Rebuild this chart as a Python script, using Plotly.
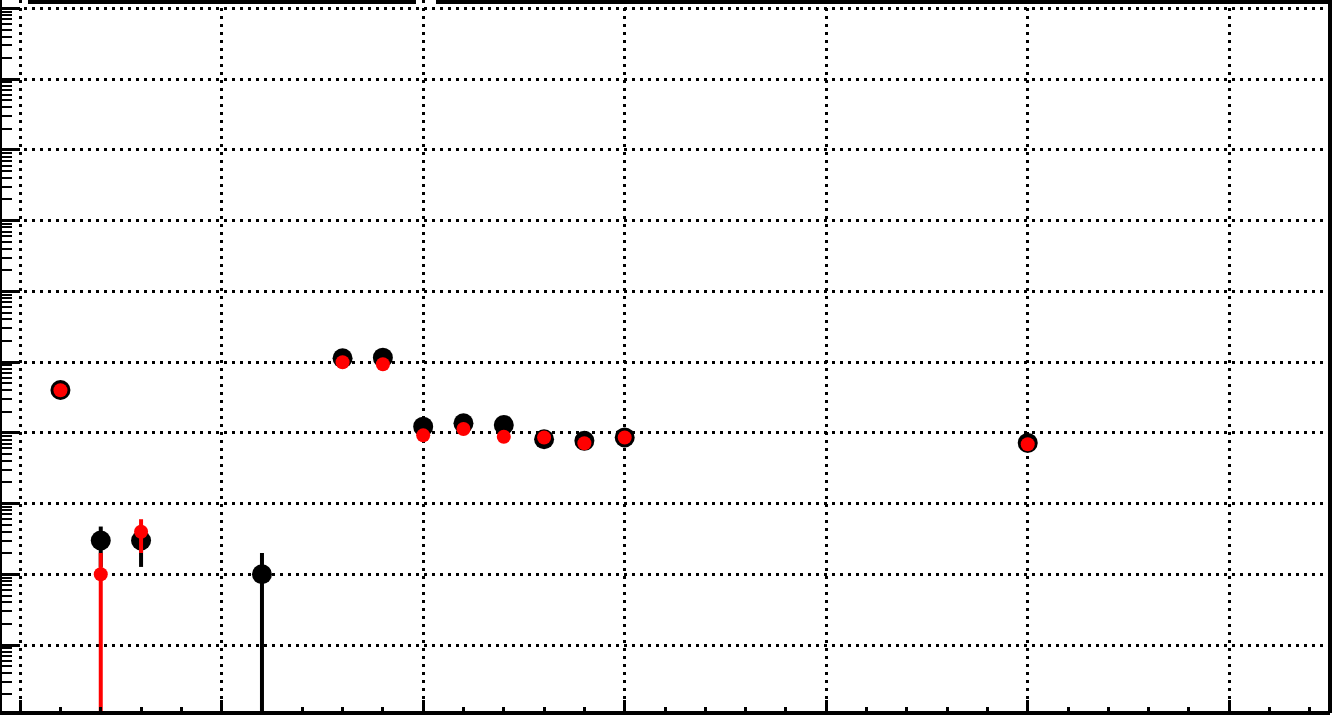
import plotly.graph_objects as go

# ---- data ----
x_data = [1, 2, 3, 6, 8, 9, 10, 11, 12, 13, 14, 15, 25]
y_data = [403, 3, 3, 1, 1131, 1153, 122, 136, 129, 81, 77, 86, 72]
err_data = [20, 1.73, 1.73, 1, 34, 34, 11, 11.7, 11.4, 9, 8.8, 9.3, 8.5]

x_mc = [1, 2, 3, 8, 9, 10, 11, 12, 13, 14, 15, 25]
y_mc = [400, 1, 4, 993, 931, 92, 113, 88, 86, 71, 86, 69]
err_mc = [20, 1, 2, 31.5, 30.5, 9.6, 10.6, 9.4, 9.3, 8.4, 9.3, 8.3]

# ---- layout geometry ----
W, H = 1338, 719
ML, MR, MT, MB = 0, 8, 0, 6
PW = W - ML - MR
PH = H - MT - MB

fig = go.Figure()

fig.add_trace(go.Scatter(
    x=x_data, y=y_data, mode="markers",
    marker=dict(color="black", size=20, line=dict(width=0)),
    error_y=dict(type="data", array=err_data, arrayminus=err_data, symmetric=False,
                 color="black", thickness=4, width=0),
    showlegend=False,
))
fig.add_trace(go.Scatter(
    x=x_mc, y=y_mc, mode="markers",
    marker=dict(color="#ff0000", size=14, line=dict(width=0)),
    error_y=dict(type="data", array=err_mc, arrayminus=err_mc, symmetric=False,
                 color="#ff0000", thickness=4, width=0),
    showlegend=False,
))

grid_dash = "3px,5px"

fig.update_xaxes(
    range=[-0.5, 32.5], showline=False, zeroline=False,
    showgrid=True, gridcolor="black", gridwidth=2.5, griddash=grid_dash,
    tick0=0, dtick=5, ticks="inside", ticklen=13, tickwidth=3, tickcolor="black",
    showticklabels=False,
    minor=dict(dtick=1, tick0=0, ticks="inside", ticklen=6, tickwidth=2.5,
               tickcolor="black", showgrid=False),
)
fig.update_yaxes(
    type="log", range=[-1.961, 8.118], showline=False, zeroline=False,
    showgrid=True, gridcolor="black", gridwidth=2.5, griddash=grid_dash,
    dtick=1, ticks="inside", ticklen=20, tickwidth=3, tickcolor="black",
    showticklabels=False,
    minor=dict(dtick="D1", ticks="inside", ticklen=12, tickwidth=2,
               tickcolor="black", showgrid=False),
)

shapes = []
# frame (left, right, bottom)
for (x0, y0, x1, y1) in [(0, 0, 0, 1), (1, 0, 1, 1), (0, 0, 1, 0)]:
    shapes.append(dict(type="line", xref="paper", yref="paper",
                       x0=x0, y0=y0, x1=x1, y1=y1,
                       line=dict(color="black", width=4), layer="above"))
# bottom edges of the boxes above the frame (cropped)
bar_h = 4 / PH
for (px0, px1) in [(28, 416), (436, PW)]:
    shapes.append(dict(type="rect", xref="paper", yref="paper",
                       x0=px0 / PW, x1=px1 / PW, y0=1 - bar_h, y1=1,
                       fillcolor="black", line=dict(width=0), layer="above"))

fig.update_layout(
    width=W, height=H,
    margin=dict(l=ML, r=MR, t=MT, b=MB, pad=0),
    paper_bgcolor="white", plot_bgcolor="white",
    shapes=shapes,
    showlegend=False,
)

fig.write_html(
    "out.html",
    config={"displayModeBar": False},
    post_script="document.body.style.margin='0';document.body.style.overflow='hidden';",
)
